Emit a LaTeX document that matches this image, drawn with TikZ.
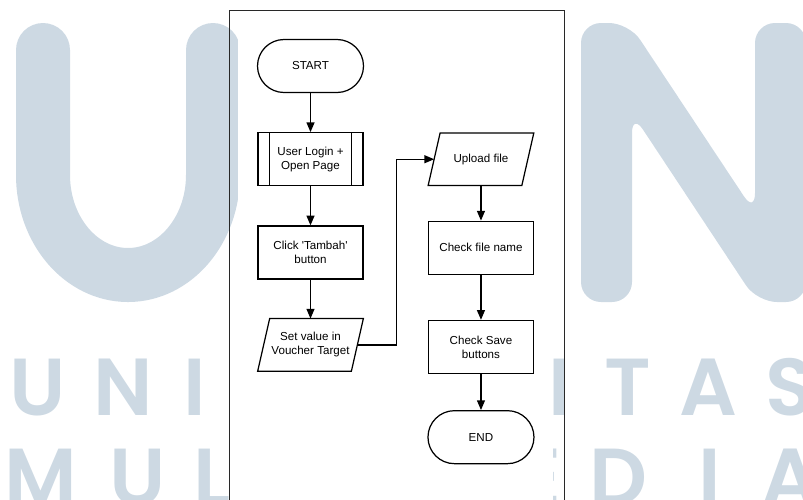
\documentclass[tikz,border=0pt]{standalone}
\usepackage{fontspec}
\setmainfont{Liberation Sans}
\newfontfamily\wmfont{Poppins}[UprightFont=* SemiBold]
\usetikzlibrary{arrows.meta, positioning}
\definecolor{wmblue}{RGB}{205,217,227}
\definecolor{frameline}{RGB}{40,40,40}
\newcommand{\flowfont}{\fontsize{6.6}{8}\selectfont}
\tikzset{
  terminal/.style={rectangle, draw, rounded corners=0.53cm,
    minimum width=2.12cm, minimum height=1.06cm,
    font=\flowfont, line width=0.7pt},
  process/.style={rectangle, draw, minimum width=2.1cm,
    minimum height=1.06cm, align=center, font=\flowfont, line width=0.7pt},
  subproc/.style={process, path picture={
      \draw[line width=0.7pt] ([xshift=0.226cm]path picture bounding box.north west)
        -- ([xshift=0.226cm]path picture bounding box.south west);
      \draw[line width=0.7pt] ([xshift=-0.226cm]path picture bounding box.north east)
        -- ([xshift=-0.226cm]path picture bounding box.south east);}},
  % slanted input/output box drawn round a plain rectangle
  io/.style={rectangle, minimum width=1.86cm, minimum height=1.04cm,
    align=center, font=\flowfont,
    append after command={\pgfextra{\let\ionode\tikzlastnode
      \draw[line width=0.7pt] ([xshift=0.12cm]\ionode.north west)
        -- ([xshift=0.12cm]\ionode.north east)
        -- ([xshift=-0.12cm]\ionode.south east)
        -- ([xshift=-0.12cm]\ionode.south west) -- cycle;}}},
  arrow/.style={-{Triangle[length=5.5pt, width=4.5pt]}, line width=0.7pt},
  wmletter/.style={font=\wmfont\fontsize{46}{46}\selectfont, text=wmblue,
    anchor=base, inner sep=0pt}
}

\begin{document}
\begin{tikzpicture}
  \useasboundingbox (0,0) rectangle (16.06,-9.98);
  \clip (0,0) rectangle (16.06,-9.98);

  % logo in the background
  \draw[wmblue, line width=1.08cm, line cap=round] (0.86,-1.0) -- (0.86,-3.5)
    arc[start angle=180, end angle=360, x radius=1.7cm, y radius=2.0cm] -- (4.26,-1.0);
  \fill[wmblue, rounded corners=0.4cm] (11.62,-6.04) -- (11.62,-0.46) -- (12.58,-0.46)
    -- (15.10,-4.26) -- (15.10,-0.46) -- (16.12,-0.46) -- (16.12,-6.04)
    -- (15.14,-6.04) -- (12.64,-2.26) -- (12.64,-6.04) -- cycle;
  \foreach \ch/\x in {U/38, N/123, I/195, I/560, T/628, A/708, S/790}
    \node[wmletter] (univ-\x) at (\x*0.02, -8.30) {\ch};
  \foreach \ch/\x in {M/41, U/138, L/212, E/540, D/618, I/710, A/790}
    \node[wmletter] (multi-\x) at (\x*0.02, -10.10) {\ch};

  % page frame
  \fill[white] (4.76,-0.2) rectangle (11.06,-10.2);
  \draw[frameline, line width=0.5pt] (4.58,-10.2) -- (4.58,-0.2) -- (11.28,-0.2) -- (11.28,-10.2);

  % flow
  \node[terminal] (start) at (6.21,-1.32) {START};
  \node[subproc, below=0.78cm of start] (login) {User Login +\\Open Page};
  \node[process, below=0.78cm of login] (tambah) {Click \textquotesingle Tambah\textquotesingle\\button};
  \node[io, below=0.78cm of tambah] (setval) {Set value in\\Voucher Target};
  \node[io, right=1.41cm of login] (upload) {Upload file};
  \node[process, below=0.7cm of upload] (checkname) {Check file name};
  \node[process, below=0.9cm of checkname] (checksave) {Check Save\\buttons};
  \node[terminal, below=0.72cm of checksave] (end) {END};

  \draw[arrow] (start) -- (login);
  \draw[arrow] (login) -- (tambah);
  \draw[arrow] (tambah) -- (setval);
  \draw[arrow] (setval.east) -- ++(0.78,0) |- (upload.west);
  \draw[arrow] (upload) -- (checkname);
  \draw[arrow] (checkname) -- (checksave);
  \draw[arrow] (checksave) -- (end);
\end{tikzpicture}
\end{document}
